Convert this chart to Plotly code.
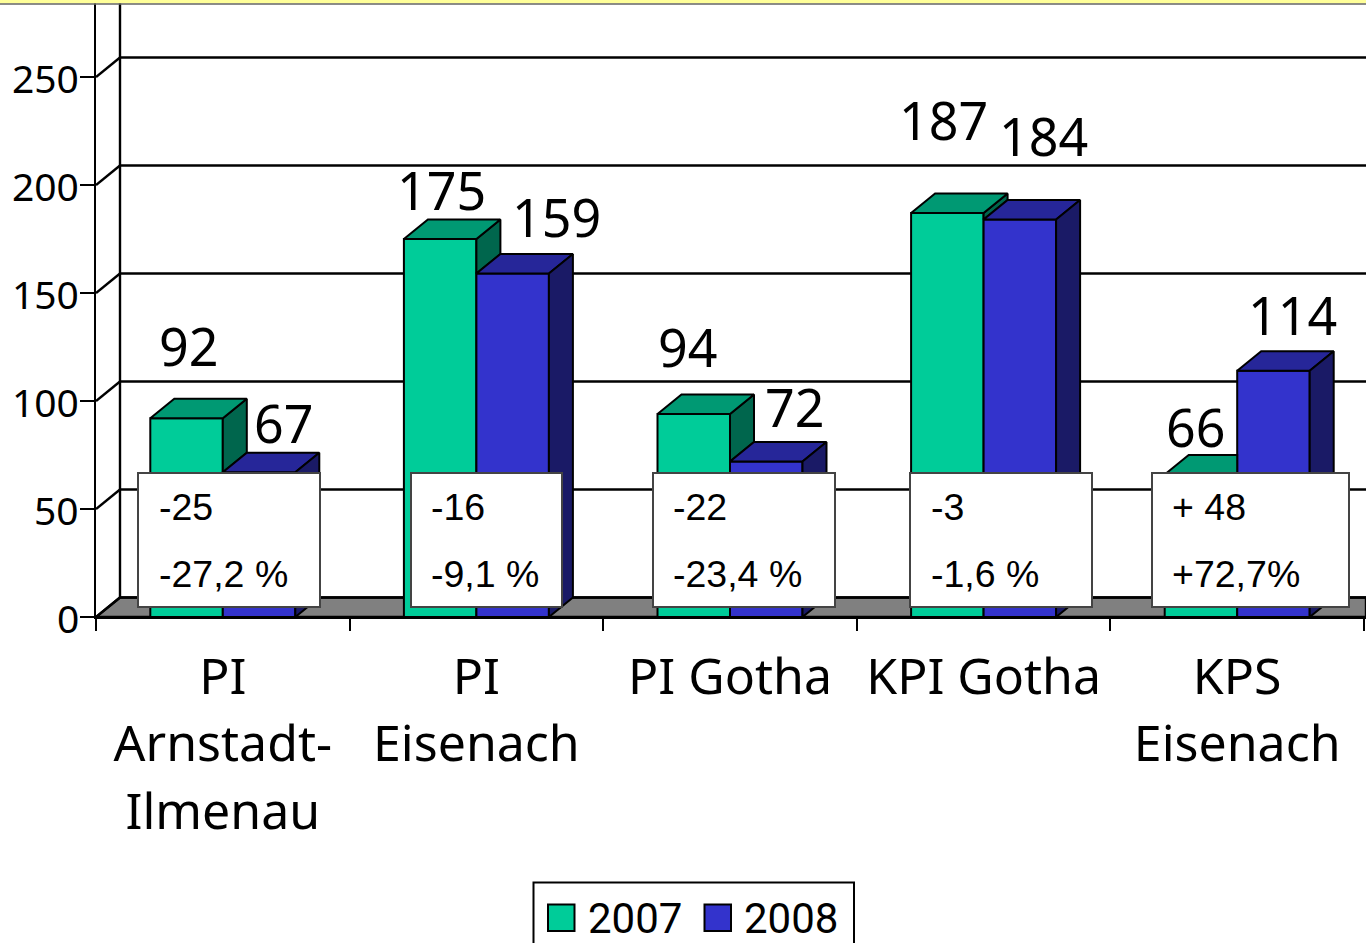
import plotly.graph_objects as go

category_lines = [["PI", "Arnstadt-", "Ilmenau"], ["PI", "Eisenach"], ["PI Gotha"], ["KPI Gotha"], ["KPS", "Eisenach"]]
series_names = ["2007", "2008"]
values_2007 = [92, 175, 94, 187, 66]
values_2008 = [67, 159, 72, 184, 114]
y_ticks = [0, 50, 100, 150, 200, 250]
box_line1 = ["-25", "-16", "-22", "-3", "+ 48"]
box_line2 = ["-27,2 %", "-9,1 %", "-23,4 %", "-1,6 %", "+72,7%"]

# pixel layout
W, H = 1366, 943
L, B = 96, 617
PX_PER_CAT = 253.6
PX_PER_VAL = 2.16
FONT = "Noto Sans"
BOX_FONT = "Liberation Sans"
LEGEND_FONT = "Roboto"

XMAX = (W - L) / PX_PER_CAT
YMAX = B / PX_PER_VAL
DX = 24 / PX_PER_CAT
DY = 19.5 / PX_PER_VAL
BAR_W = 72.5 / PX_PER_CAT

C_FRONT = ["#00CC99", "#3333CC"]
C_TOP = ["#009973", "#262699"]
C_SIDE = ["#00664D", "#1A1A66"]

def px(x):
    return (x - L) / (W - L)
def py(y):
    return 1 - y / B

fig = go.Figure()
centers = [i + 0.5 for i in range(len(category_lines))]
tick_text = ["<br>".join(f"<span style='font-size:50px'>{s}</span>" for s in lines) for lines in category_lines]

for name, vals, col in zip(series_names, [values_2007, values_2008], C_FRONT):
    fig.add_trace(go.Bar(x=centers, y=vals, name=name, marker=dict(color=col, line=dict(color="black", width=2))))

def poly(xs, ys, color):
    fig.add_trace(go.Scatter(x=xs + xs[:1], y=ys + ys[:1], mode="lines", fill="toself", fillcolor=color,
                             line=dict(color="black", width=2), hoverinfo="skip", showlegend=False))

for c, v1, v2 in zip(centers, values_2007, values_2008):
    xl, xm, xr = c - BAR_W, c, c + BAR_W
    # 2007 side, visible part only
    if v1 > v2:
        poly([xm, xm + DX, xm + DX, xm], [v1, v1 + DY, v2 + DY, v2], C_SIDE[0])
        poly([xl, xl + DX, xm + DX, xm], [v1, v1 + DY, v1 + DY, v1], C_TOP[0])
    else:
        poly([xl, xl + DX, xm, xm], [v1, v1 + DY, v1 + DY, v1], C_TOP[0])
    poly([xm, xm + DX, xr + DX, xr], [v2, v2 + DY, v2 + DY, v2], C_TOP[1])
    poly([xr, xr + DX, xr + DX, xr], [v2, v2 + DY, DY, 0], C_SIDE[1])

LINE = dict(color="black", width=2.4)
shapes = []
# floor
shapes.append(dict(type="path", layer="below", xref="x", yref="y",
                   path=f"M 0 0 L {DX} {DY} L {XMAX} {DY} L {XMAX} 0 Z",
                   fillcolor="#808080", line=LINE))
# back wall
shapes.append(dict(type="line", layer="below", xref="x", yref="y", x0=DX, x1=DX, y0=DY, y1=YMAX, line=LINE))
for t in y_ticks:
    shapes.append(dict(type="line", layer="below", xref="x", yref="y", x0=0, x1=DX, y0=t, y1=t + DY, line=LINE))
    shapes.append(dict(type="line", layer="below", xref="x", yref="y", x0=DX, x1=XMAX, y0=t + DY, y1=t + DY, line=LINE))

# yellow strip at the very top
shapes.append(dict(type="rect", layer="above", xref="paper", yref="paper", x0=px(0), x1=px(W), y0=py(3.5), y1=py(0),
                   fillcolor="#FFFF99", line=dict(width=0)))
shapes.append(dict(type="line", layer="above", xref="paper", yref="paper", x0=px(0), x1=px(W), y0=py(4), y1=py(4),
                   line=dict(color="#666666", width=1.5)))

annotations = []
def text(x, y, s, size, family=FONT, anchor="center"):
    annotations.append(dict(xref="paper", yref="paper", x=px(x), y=py(y), text=s, showarrow=False,
                            xanchor=anchor, yanchor="middle", font=dict(family=family, size=size, color="black")))

# y tick labels
for t in y_ticks:
    annotations.append(dict(xref="paper", yref="y", x=px(81), y=t, text=str(t), showarrow=False, yshift=-0.5,
                            xanchor="right", yanchor="middle", font=dict(family=FONT, size=39, color="black")))

# value labels: offsets from each bar's centre and top
shift_2007 = [(2, 73), (1, 50), (-6, 67), (-4, 94), (-5, 48)]
shift_2008 = [(25, 50), (44, 57), (29, 55), (24, 84), (19, 56)]
for sign, vals, shifts in [(-1, values_2007, shift_2007), (1, values_2008, shift_2008)]:
    for c, v, (sx, sy) in zip(centers, vals, shifts):
        annotations.append(dict(xref="x", yref="y", x=c + sign * BAR_W / 2, y=v, text=str(v), showarrow=False,
                                xshift=sx, yshift=sy, xanchor="center", yanchor="middle",
                                font=dict(family=FONT, size=52, color="black")))

# comment boxes
box_x = [(138, 320), (411, 562), (653, 835), (910, 1092), (1152, 1349)]
box_text_x = [157, 429, 671, 929, 1170]
for (x0, x1), tx, a, b in zip(box_x, box_text_x, box_line1, box_line2):
    shapes.append(dict(type="rect", layer="above", xref="paper", yref="paper", x0=px(x0), x1=px(x1), y0=py(607), y1=py(473),
                       fillcolor="white", line=dict(color="#444444", width=2)))
    text(tx, 507, a, 37.5, BOX_FONT, "left")
    text(tx, 574, b, 37.5, BOX_FONT, "left")

# legend
shapes.append(dict(type="rect", layer="above", xref="paper", yref="paper", x0=px(533.5), x1=px(854), y0=py(960), y1=py(882.5),
                   fillcolor="white", line=dict(color="black", width=2)))
for (x0, x1), tx, col, name in zip([(548, 574.5), (704.5, 731)], [586, 742], C_FRONT, series_names):
    shapes.append(dict(type="rect", layer="above", xref="paper", yref="paper", x0=px(x0), x1=px(x1), y0=py(931), y1=py(904.5),
                       fillcolor=col, line=dict(color="black", width=2)))
    text(tx, 918, name, 42, LEGEND_FONT, "left")

fig.update_layout(
    width=W, height=H, margin=dict(l=L, r=0, t=0, b=H - B), autosize=False,
    paper_bgcolor="white", plot_bgcolor="white", showlegend=False,
    barmode="group", bargap=1 - 2 * BAR_W, bargroupgap=0,
    shapes=shapes, annotations=annotations,
    font=dict(family=FONT, color="black"),
    xaxis=dict(range=[0, XMAX], tickmode="array", tickvals=centers, ticktext=tick_text,
               tickfont=dict(family=FONT, size=52), ticks="outside", ticklen=12, tickcolor="rgba(0,0,0,0)",
               showline=True, linecolor="black", linewidth=2.4, showgrid=False, zeroline=False,
               minor=dict(tickmode="array", tickvals=list(range(6)), ticks="outside", ticklen=12, tickwidth=2,
                          tickcolor="black", showgrid=False)),
    yaxis=dict(range=[0, YMAX], tickmode="array", tickvals=y_ticks, showticklabels=False,
               ticks="outside", ticklen=14, tickwidth=2, tickcolor="black",
               showline=True, linecolor="black", linewidth=2.4, showgrid=False, zeroline=False),
)

fig.write_html("out.html", config=dict(displayModeBar=False), post_script="document.body.style.margin='0';")
